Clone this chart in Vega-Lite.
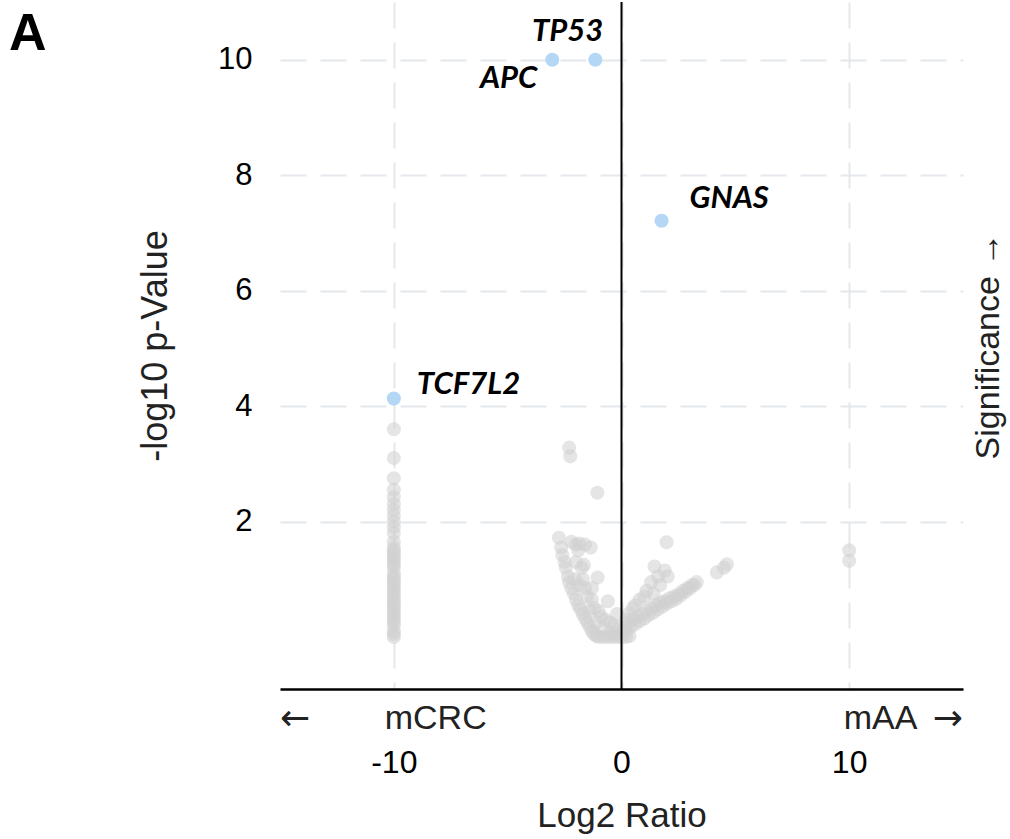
{
  "$schema": "https://vega.github.io/schema/vega-lite/v6.json",
  "width": 683,
  "height": 687,
  "autosize": "none",
  "padding": {"left": 280, "top": 2, "right": 47, "bottom": 150},
  "background": "white",
  "config": {"view": {"stroke": null}, "font": "Liberation Sans"},
  "datasets": {
    "genes": [
      {"x": -10, "y": 3.6}, {"x": -10, "y": 3.1}, {"x": -10, "y": 2.75}, {"x": -10, "y": 2.55}, {"x": -10, "y": 2.42},
      {"x": -10, "y": 2.3}, {"x": -10, "y": 2.2}, {"x": -10, "y": 2.1}, {"x": -10, "y": 2.0}, {"x": -10, "y": 1.9},
      {"x": -10, "y": 1.8}, {"x": -10, "y": 1.65}, {"x": -10, "y": 1.55}, {"x": -10, "y": 1.5}, {"x": -10, "y": 1.45},
      {"x": -10, "y": 1.4}, {"x": -10, "y": 1.35}, {"x": -10, "y": 1.3}, {"x": -10, "y": 1.25}, {"x": -10, "y": 1.2},
      {"x": -10, "y": 1.1}, {"x": -10, "y": 1.05}, {"x": -10, "y": 1.0}, {"x": -10, "y": 0.95}, {"x": -10, "y": 0.9},
      {"x": -10, "y": 0.85}, {"x": -10, "y": 0.8}, {"x": -10, "y": 0.75}, {"x": -10, "y": 0.7}, {"x": -10, "y": 0.65},
      {"x": -10, "y": 0.6}, {"x": -10, "y": 0.55}, {"x": -10, "y": 0.5}, {"x": -10, "y": 0.45}, {"x": -10, "y": 0.4},
      {"x": -10, "y": 0.35}, {"x": -10, "y": 0.3}, {"x": -10, "y": 0.25}, {"x": -10, "y": 0.2}, {"x": -10, "y": 0.1},
      {"x": -10, "y": 0.05}, {"x": -10, "y": 0.0},
      {"x": 10, "y": 1.5}, {"x": 10, "y": 1.32},
      {"x": -2.75, "y": 1.72}, {"x": -2.65, "y": 1.55}, {"x": -2.6, "y": 1.42}, {"x": -2.5, "y": 1.3}, {"x": -2.45, "y": 1.2},
      {"x": -2.35, "y": 1.05}, {"x": -2.3, "y": 0.95}, {"x": -2.2, "y": 0.85}, {"x": -2.1, "y": 0.75}, {"x": -2.0, "y": 0.65},
      {"x": -1.9, "y": 0.55}, {"x": -1.8, "y": 0.48}, {"x": -1.7, "y": 0.4}, {"x": -1.6, "y": 0.32}, {"x": -1.5, "y": 0.25},
      {"x": -1.4, "y": 0.18}, {"x": -1.3, "y": 0.1}, {"x": -1.2, "y": 0.05}, {"x": -1.1, "y": 0.02}, {"x": -1.0, "y": 0.0},
      {"x": -0.8, "y": 0.0}, {"x": -0.6, "y": 0.0}, {"x": -0.4, "y": 0.0}, {"x": -0.2, "y": 0.0}, {"x": 0.0, "y": 0.0},
      {"x": 0.2, "y": 0.0}, {"x": 0.35, "y": 0.02},
      {"x": -2.2, "y": 1.65}, {"x": -2.0, "y": 1.6}, {"x": -1.85, "y": 1.62}, {"x": -1.6, "y": 1.6}, {"x": -1.35, "y": 1.55},
      {"x": -1.9, "y": 1.5}, {"x": -2.0, "y": 1.3}, {"x": -1.65, "y": 1.25}, {"x": -1.75, "y": 1.2}, {"x": -1.05, "y": 1.03},
      {"x": -2.05, "y": 1.0}, {"x": -1.85, "y": 0.9}, {"x": -1.6, "y": 0.85}, {"x": -1.5, "y": 0.7}, {"x": -1.3, "y": 0.65},
      {"x": -0.6, "y": 0.62}, {"x": -1.2, "y": 0.5}, {"x": -1.0, "y": 0.45}, {"x": -0.9, "y": 0.35}, {"x": -0.7, "y": 0.3},
      {"x": -0.5, "y": 0.25}, {"x": -0.3, "y": 0.2}, {"x": -0.2, "y": 0.4}, {"x": -0.1, "y": 0.15}, {"x": -0.8, "y": 0.15},
      {"x": -0.5, "y": 0.08}, {"x": -0.3, "y": 0.05}, {"x": -1.1, "y": 0.25}, {"x": -1.4, "y": 0.45}, {"x": -1.7, "y": 1.0},
      {"x": -1.3, "y": 0.85}, {"x": -2.3, "y": 3.28}, {"x": -2.25, "y": 3.13}, {"x": -1.06, "y": 2.5},
      {"x": 0.1, "y": 0.15}, {"x": 0.2, "y": 0.1}, {"x": 0.3, "y": 0.25}, {"x": 0.4, "y": 0.18}, {"x": 0.5, "y": 0.3},
      {"x": 0.6, "y": 0.22}, {"x": 0.7, "y": 0.35}, {"x": 0.8, "y": 0.28}, {"x": 0.9, "y": 0.4}, {"x": 1.0, "y": 0.32},
      {"x": 1.1, "y": 0.45}, {"x": 1.2, "y": 0.38}, {"x": 1.3, "y": 0.5}, {"x": 1.4, "y": 0.42}, {"x": 1.5, "y": 0.55},
      {"x": 1.6, "y": 0.48}, {"x": 1.7, "y": 0.6}, {"x": 1.8, "y": 0.53}, {"x": 1.9, "y": 0.62}, {"x": 2.0, "y": 0.58},
      {"x": 2.1, "y": 0.67}, {"x": 2.2, "y": 0.62}, {"x": 2.3, "y": 0.7}, {"x": 2.4, "y": 0.66}, {"x": 2.5, "y": 0.74},
      {"x": 2.6, "y": 0.72}, {"x": 2.7, "y": 0.8}, {"x": 2.8, "y": 0.78}, {"x": 2.9, "y": 0.85}, {"x": 3.0, "y": 0.84},
      {"x": 3.1, "y": 0.9}, {"x": 3.2, "y": 0.9}, {"x": 3.3, "y": 0.95},
      {"x": 1.98, "y": 1.64}, {"x": 1.45, "y": 1.22}, {"x": 2.03, "y": 1.05}, {"x": 1.6, "y": 1.05}, {"x": 1.3, "y": 0.95},
      {"x": 1.1, "y": 0.8}, {"x": 0.8, "y": 0.65}, {"x": 0.5, "y": 0.5}, {"x": 0.3, "y": 0.4}, {"x": 4.19, "y": 1.12},
      {"x": 4.63, "y": 1.26}, {"x": 4.5, "y": 1.2}, {"x": 1.9, "y": 1.15}, {"x": 0.2, "y": 0.3}, {"x": 0.6, "y": 0.55},
      {"x": 1.0, "y": 0.7}, {"x": 1.7, "y": 0.9}, {"x": 1.4, "y": 0.75}
    ],
    "highlight": [
      {"gene": "TP53", "x": -1.15, "y": 10.0},
      {"gene": "APC", "x": -3.04, "y": 10.0},
      {"gene": "GNAS", "x": 1.76, "y": 7.21},
      {"gene": "TCF7L2", "x": -10.0, "y": 4.13}
    ],
    "panel": [{"t": "A", "x": -26.9, "y": 10.45}],
    "groupLeft": [{"t": "mCRC", "x": -10.4, "y": -1.6}],
    "groupRight": [{"t": "mAA", "x": 13.0, "y": -1.6}],
    "arrowLeft": [{"t": "←", "x": -15, "y": -1.6}],
    "arrowRight": [{"t": "→", "x": 15, "y": -1.6}]
  },
  "resolve": {"axis": {"y": "independent"}},
  "layer": [
    {
      "data": {"name": "genes"},
      "mark": {"type": "circle", "size": 200, "color": "#cfcfcf", "opacity": 0.55},
      "encoding": {
        "x": {"field": "x", "type": "quantitative", "scale": {"domain": [-15, 15], "nice": false, "zero": false},
          "axis": {"values": [-10, 0, 10], "labelExpr": "'' + datum.value", "grid": true, "gridDash": [26, 14], "gridColor": "#e4e8ec", "gridWidth": 2,
            "domainColor": "black", "domainWidth": 2.5, "ticks": false, "labelFontSize": 32, "labelPadding": 58,
            "labelColor": "black", "labelFont": "Liberation Sans", "title": "Log2 Ratio", "titleFontSize": 35, "titleFontWeight": "normal",
            "titlePadding": 20, "titleColor": "#222", "titleFont": "Liberation Sans"}},
        "y": {"field": "y", "type": "quantitative", "scale": {"domain": [-0.9, 11], "nice": false, "zero": false},
          "axis": {"values": [2, 4, 6, 8, 10], "grid": true, "gridDash": [26, 14], "gridColor": "#e4e8ec", "gridWidth": 2,
            "domain": false, "ticks": false, "labelFontSize": 31, "labelPadding": 28, "labelColor": "black", "labelFont": "Liberation Sans",
            "title": "-log10 p-Value", "titleFontSize": 36, "titleFontWeight": "normal", "titlePadding": 43, "titleColor": "#222", "titleFont": "Liberation Sans"}}
      }
    },
    {
      "data": {"values": [{"x": 0}]},
      "mark": {"type": "rule", "color": "black", "strokeWidth": 2},
      "encoding": {"x": {"field": "x", "type": "quantitative"}}
    },
    {
      "data": {"name": "highlight"},
      "mark": {"type": "circle", "size": 200, "color": "#b4d7f6", "opacity": 1},
      "encoding": {
        "x": {"field": "x", "type": "quantitative"},
        "y": {"field": "y", "type": "quantitative",
          "axis": {"orient": "right", "labels": false, "ticks": false, "domain": false, "grid": false,
            "title": "Significance →", "titleFontSize": 34, "titleFontWeight": "normal", "titleColor": "#222", "titleFont": "Liberation Sans",
            "titleAngle": 270, "titlePadding": 42}}
      }
    },
    {
      "data": {"name": "highlight"},
      "transform": [{"filter": "datum.gene === 'TP53'"}],
      "mark": {"type": "text", "font": "Lato", "fontStyle": "italic", "fontWeight": "bold", "fontSize": 31, "align": "right", "baseline": "middle", "dx": 8, "dy": -28, "color": "black"},
      "encoding": {"x": {"field": "x", "type": "quantitative"}, "y": {"field": "y", "type": "quantitative", "axis": null}, "text": {"field": "gene"}}
    },
    {
      "data": {"name": "highlight"},
      "transform": [{"filter": "datum.gene === 'APC'"}],
      "mark": {"type": "text", "font": "Lato", "fontStyle": "italic", "fontWeight": "bold", "fontSize": 31, "align": "right", "baseline": "middle", "dx": -15, "dy": 19, "color": "black"},
      "encoding": {"x": {"field": "x", "type": "quantitative"}, "y": {"field": "y", "type": "quantitative", "axis": null}, "text": {"field": "gene"}}
    },
    {
      "data": {"name": "highlight"},
      "transform": [{"filter": "datum.gene === 'GNAS'"}],
      "mark": {"type": "text", "font": "Lato", "fontStyle": "italic", "fontWeight": "bold", "fontSize": 31, "align": "left", "baseline": "middle", "dx": 28, "dy": -22, "color": "black"},
      "encoding": {"x": {"field": "x", "type": "quantitative"}, "y": {"field": "y", "type": "quantitative", "axis": null}, "text": {"field": "gene"}}
    },
    {
      "data": {"name": "highlight"},
      "transform": [{"filter": "datum.gene === 'TCF7L2'"}],
      "mark": {"type": "text", "font": "Lato", "fontStyle": "italic", "fontWeight": "bold", "fontSize": 31, "align": "left", "baseline": "middle", "dx": 23, "dy": -14, "color": "black"},
      "encoding": {"x": {"field": "x", "type": "quantitative"}, "y": {"field": "y", "type": "quantitative", "axis": null}, "text": {"field": "gene"}}
    },
    {
      "data": {"name": "panel"},
      "mark": {"type": "text", "font": "Liberation Sans", "fontSize": 52, "fontWeight": "bold", "align": "left", "baseline": "middle", "clip": false, "color": "black"},
      "encoding": {"x": {"field": "x", "type": "quantitative"}, "y": {"field": "y", "type": "quantitative", "axis": null}, "text": {"field": "t"}}
    },
    {
      "data": {"name": "groupLeft"},
      "mark": {"type": "text", "font": "Liberation Sans", "fontSize": 34, "align": "left", "baseline": "alphabetic", "clip": false, "color": "#222"},
      "encoding": {"x": {"field": "x", "type": "quantitative"}, "y": {"field": "y", "type": "quantitative", "axis": null}, "text": {"field": "t"}}
    },
    {
      "data": {"name": "groupRight"},
      "mark": {"type": "text", "font": "Liberation Sans", "fontSize": 34, "align": "right", "baseline": "alphabetic", "clip": false, "color": "#222"},
      "encoding": {"x": {"field": "x", "type": "quantitative"}, "y": {"field": "y", "type": "quantitative", "axis": null}, "text": {"field": "t"}}
    },
    {
      "data": {"name": "arrowLeft"},
      "mark": {"type": "text", "font": "DejaVu Sans", "fontSize": 36, "align": "left", "baseline": "middle", "dy": -10, "clip": false, "color": "#222"},
      "encoding": {"x": {"field": "x", "type": "quantitative"}, "y": {"field": "y", "type": "quantitative", "axis": null}, "text": {"field": "t"}}
    },
    {
      "data": {"name": "arrowRight"},
      "mark": {"type": "text", "font": "DejaVu Sans", "fontSize": 36, "align": "right", "baseline": "middle", "dy": -10, "clip": false, "color": "#222"},
      "encoding": {"x": {"field": "x", "type": "quantitative"}, "y": {"field": "y", "type": "quantitative", "axis": null}, "text": {"field": "t"}}
    }
  ]
}
